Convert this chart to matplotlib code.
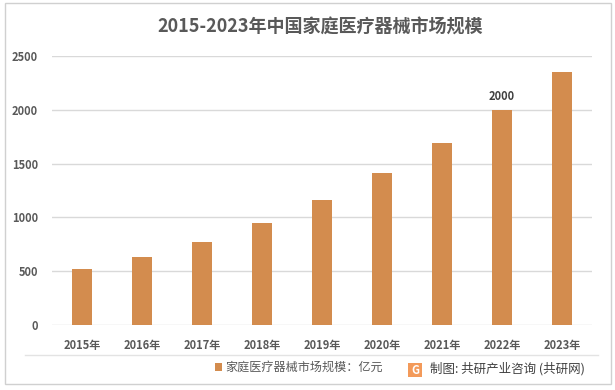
import matplotlib
matplotlib.use("Agg")
import matplotlib.pyplot as plt
from matplotlib.patches import Rectangle
from matplotlib.lines import Line2D

plt.rcParams['font.family'] = ['Noto Sans CJK SC', 'DejaVu Sans']

# data
years = ['2015年', '2016年', '2017年', '2018年', '2019年', '2020年', '2021年', '2022年', '2023年']
market_size = [520, 632, 771, 948, 1162, 1413, 1691, 2000, 2351]
labelled = {'2022年': 2000}
yticks = [0, 500, 1000, 1500, 2000, 2500]

title = '2015-2023年中国家庭医疗器械市场规模'
legend_text = '家庭医疗器械市场规模：亿元'
source_text = '制图: 共研产业咨询 (共研网)'

bar_color = '#D38C4E'
text_color = '#595959'
grid_color = '#D9D9D9'

W, H = 615, 390


def fx(px):
    return px / W


def fy(py):
    return 1 - py / H


fig = plt.figure(figsize=(6.15, 3.9), dpi=100)
ax = fig.add_axes([fx(52), fy(325), 540 / W, 269 / H])

x = range(len(years))
ax.bar(x, market_size, width=0.32, color=bar_color, zorder=3)
for i, yr in enumerate(years):
    if yr in labelled:
        ax.text(i, market_size[i] + 60, f'{labelled[yr]}', ha='center', va='bottom',
                fontsize=8, color='#404040', fontweight='bold')

ax.set_xlim(-0.5, len(years) - 0.5)
ax.set_ylim(0, 2500)
ax.set_yticks(yticks)
ax.set_xticks(list(x))
ax.set_xticklabels(years)
ax.tick_params(axis='both', length=0, labelsize=8, colors=text_color)
ax.tick_params(axis='y', pad=10)
ax.tick_params(axis='x', pad=10)
for lab in ax.get_xticklabels() + ax.get_yticklabels():
    lab.set_fontweight('bold')
ax.grid(axis='y', color=grid_color, linewidth=1, zorder=0)
for s in ax.spines.values():
    s.set_visible(False)

# title
fig.text(fx(320), fy(27), title, ha='center', va='center', fontsize=13,
         fontweight='bold', color=text_color)

# outer frame
fig.patches.append(Rectangle((fx(5), fy(384)), 606 / W, 381 / H, transform=fig.transFigure,
                             fill=False, edgecolor='#D0D0D0', linewidth=1))

# divider line above legend
fig.lines.append(Line2D([fx(25), fx(598)], [fy(355)] * 2, transform=fig.transFigure,
                        color='#E3E3E3', linewidth=1))

# legend
fig.patches.append(Rectangle((fx(215), fy(371)), 7 / W, 8 / H, transform=fig.transFigure,
                             facecolor=bar_color, edgecolor='none'))
fig.text(fx(225), fy(367), legend_text, ha='left', va='center', fontsize=8.7, color=text_color)

# source with logo
fig.patches.append(Rectangle((fx(408), fy(377)), 14 / W, 14 / H, transform=fig.transFigure,
                             facecolor='#F39A5A', edgecolor='none'))
fig.text(fx(415), fy(370), 'G', ha='center', va='center', fontsize=8, color='white',
         fontweight='bold')
fig.text(fx(430), fy(369), source_text, ha='left', va='center', fontsize=9, color='#404040')

fig.savefig('out.png', dpi=100)
